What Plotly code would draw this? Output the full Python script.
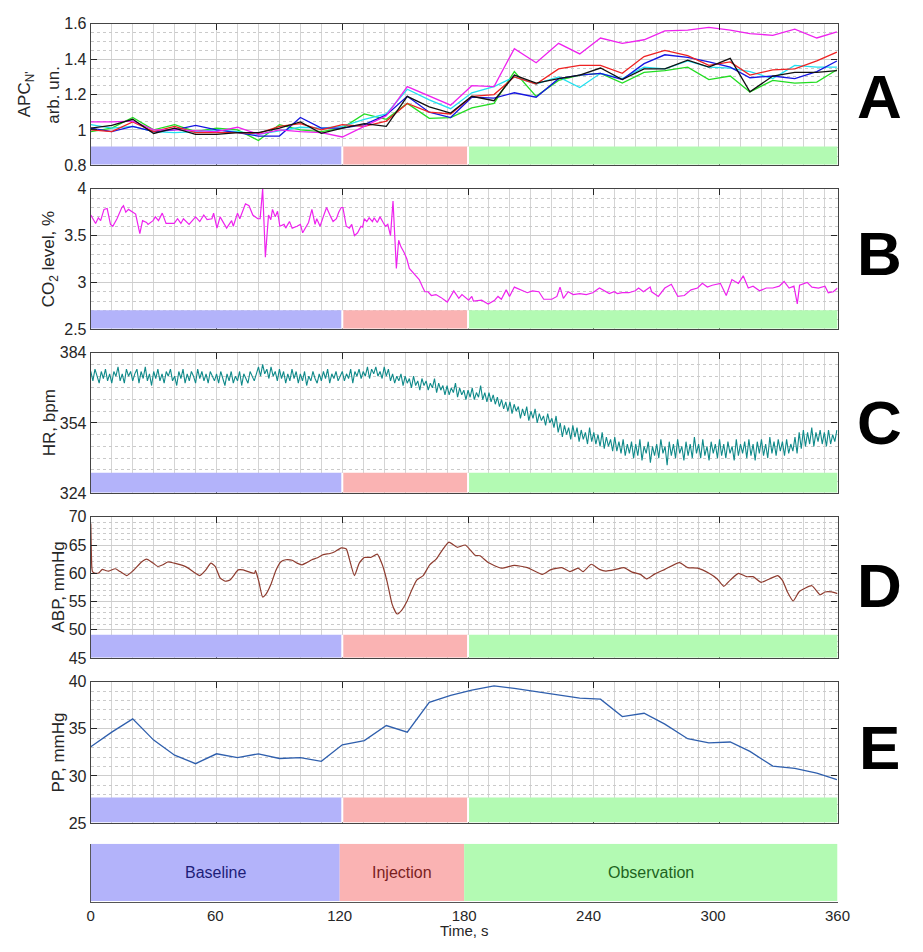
import plotly.graph_objects as go

# page is 923x952; the browser body keeps its default 8px margin, so the
# figure itself is sized to fit exactly inside it.
OFF = 8
W, H = 923 - 2 * OFF, 952 - 2 * OFF

# ---------------- data ----------------
phase_names = ["Baseline", "Injection", "Observation"]
phase_start = [0, 120, 180]
phase_end = [120, 180, 360]

# Panel A / E sample times (s)
time_pts = [0, 10, 20, 30, 40, 50, 60, 70, 80, 90, 100, 110, 120,
            130.5, 141, 151, 161.5, 171.7, 181.8, 192.4, 202.1, 212.5, 223.2,
            233.3, 243.2, 253.6, 264, 273.9, 284.8, 294.9, 305.1, 314.5, 325.4,
            335.9, 346.4, 356]

apc_magenta = [1.045, 1.045, 1.05, 1.0, 1.0, 0.995, 0.99, 1.015, 0.975, 1.0, 0.99, 0.985, 0.96,
               1.02, 1.08, 1.245, 1.19, 1.14,
               1.25, 1.245, 1.46, 1.38, 1.49, 1.43, 1.52, 1.49, 1.51, 1.56, 1.565, 1.58,
               1.565, 1.545, 1.535, 1.57, 1.52, 1.555]
apc_red = [1.0, 0.99, 1.045, 0.99, 1.02, 0.985, 0.985, 0.985, 0.98, 1.02, 1.035, 1.0, 1.03,
           1.02, 1.05, 1.15, 1.1, 1.09,
           1.19, 1.2, 1.3, 1.26, 1.345, 1.365, 1.365, 1.32, 1.415, 1.45, 1.42, 1.365,
           1.385, 1.31, 1.34, 1.345, 1.39, 1.44]
apc_blue = [1.01, 0.99, 1.02, 0.99, 1.0, 1.025, 1.0, 0.985, 0.965, 0.965, 1.07, 1.01, 1.01,
            1.03, 1.085, 1.19, 1.1, 1.07,
            1.185, 1.18, 1.21, 1.185, 1.29, 1.31, 1.32, 1.285, 1.375, 1.425, 1.41, 1.385,
            1.355, 1.295, 1.305, 1.29, 1.33, 1.39]
apc_cyan = [1.03, 1.01, 1.02, 0.99, 0.985, 0.99, 1.0, 0.99, 0.975, 0.995, 1.015, 1.01, 1.02,
            1.06, 1.09, 1.23, 1.17, 1.12,
            1.21, 1.245, 1.3, 1.26, 1.3, 1.24, 1.32, 1.29, 1.355, 1.345, 1.39, 1.355,
            1.35, 1.33, 1.29, 1.365, 1.355, 1.355]
apc_black = [1.01, 1.025, 1.06, 0.98, 1.01, 0.975, 0.975, 0.985, 0.985, 1.01, 1.045, 0.98, 1.01,
             1.035, 1.02, 1.19, 1.13, 1.095,
             1.19, 1.165, 1.31, 1.265, 1.29, 1.31, 1.35, 1.285, 1.345, 1.345, 1.395, 1.355,
             1.405, 1.215, 1.305, 1.325, 1.325, 1.335]
apc_green = [0.99, 1.01, 1.07, 1.0, 1.03, 0.99, 1.01, 1.0, 0.94, 1.03, 1.0, 0.99, 1.01,
             1.09, 1.06, 1.15, 1.065, 1.07,
             1.125, 1.15, 1.33, 1.19, 1.28, 1.31, 1.32, 1.265, 1.325, 1.335, 1.355, 1.285,
             1.305, 1.215, 1.28, 1.265, 1.27, 1.34]

co2_t = [0, 2.3, 3.6, 4.7, 6.3, 7.8, 9.4, 10.5, 12.5, 14.8, 15.6, 16.7, 18.0, 20.3, 21.4, 23.4,
         24.7, 26.6, 27.3, 29.7, 30.8, 32.3, 34.1, 35.9, 39.8, 41.4, 43.0, 44.2, 46.9, 50.0,
         52.0, 53.9, 55.5, 57.8, 58.6, 60.2, 61.7, 64.8, 67.2, 68.0, 70.0, 71.1, 73.8, 75.5,
         77.3, 79.7, 80.8, 82.0, 83.3, 84.8, 85.9, 86.7, 88.0, 89.1, 90.2, 92.2, 93.0, 94.8,
         96.1, 98.4, 100.0, 101.1, 103.1, 103.9, 105.5, 107.0, 107.8, 109.4, 110.9, 112.5,
         114.5, 115.6, 117.2, 118.3, 119.5, 120.3, 121.9, 123.4, 124.5, 125.8, 127.3, 128.9,
         129.7, 130.5, 131.7, 132.8, 134.4, 135.2, 136.7, 138.0, 139.5, 140.6, 141.7, 143.0,
         144.2, 145.8, 146.9, 148.0, 149.5, 150.8, 152.0, 153.9, 155.8, 156.7, 158.3, 159.4,
         160.9, 162.5,
         164.7, 167.0, 170.1, 173.2, 175.6, 177.1, 180.3, 181.8, 182.6, 186.5, 189.6, 192.7,
         194.3, 195.9, 198.2, 199.8, 202.1, 205.2, 208.3, 210.7, 213.8, 216.1, 220.0, 222.4,
         223.9, 225.5, 227.8, 230.2, 233.3, 236.4, 239.5, 242.7, 245.0, 247.4, 249.7, 251.3,
         253.6, 256.7, 259.8, 261.4, 263.7, 266.9, 267.6, 270.8, 273.9, 277.0, 280.1, 283.2,
         286.4, 289.5, 291.8, 294.2, 296.5, 300.4, 303.2, 305.9, 307.4, 309.0, 311.3, 313.7,
         316.0, 319.1, 322.3, 325.4, 328.5, 330.8, 333.2, 335.5, 337.1, 338.2, 341.8, 344.1,
         347.2, 350.3, 351.9, 354.3, 356.3]
co2_v = [3.72, 3.63, 3.69, 3.66, 3.78, 3.79, 3.62, 3.6, 3.68, 3.8, 3.82, 3.75, 3.78, 3.74, 3.73, 3.52,
         3.66, 3.64, 3.62, 3.66, 3.7, 3.66, 3.74, 3.63, 3.63, 3.68, 3.63, 3.68, 3.62, 3.7,
         3.65, 3.72, 3.67, 3.68, 3.74, 3.58, 3.7, 3.58, 3.66, 3.6, 3.74, 3.68, 3.84, 3.82,
         3.72, 3.68, 3.68, 4.0, 3.27, 3.72, 3.67, 3.78, 3.7, 3.76, 3.6, 3.62, 3.58, 3.65,
         3.58, 3.6, 3.62, 3.53, 3.6, 3.64, 3.78, 3.62, 3.68, 3.6, 3.7, 3.8,
         3.7, 3.65, 3.68, 3.75, 3.8, 3.8, 3.6, 3.58, 3.62, 3.5, 3.53, 3.6,
         3.59, 3.68, 3.65, 3.69, 3.65, 3.69, 3.64, 3.7, 3.64, 3.6, 3.62, 3.5,
         3.87, 3.15, 3.45, 3.38, 3.32, 3.25, 3.15, 3.1, 3.05, 3.03, 2.95, 2.9,
         2.9, 2.86,
         2.87, 2.84, 2.79, 2.91, 2.83, 2.87, 2.81, 2.85, 2.8, 2.81, 2.77, 2.81,
         2.85, 2.82, 2.92, 2.85, 2.95, 2.92, 2.89, 2.91, 2.9, 2.82, 2.82, 2.85,
         2.95, 2.83, 2.9, 2.87, 2.88, 2.87, 2.89, 2.94, 2.91, 2.88, 2.9, 2.88,
         2.89, 2.89, 2.91, 2.94, 2.9, 2.95, 2.9, 2.85, 2.94, 2.98, 2.85, 2.86,
         2.92, 2.94, 2.99, 2.95, 2.97, 2.99, 2.86, 3.03, 3.01, 2.99, 3.07, 2.94,
         2.96, 2.91, 2.94, 2.94, 2.96, 3.01, 2.94, 2.96, 2.77, 2.97, 3.0, 2.95,
         2.94, 2.96, 2.89, 2.9, 2.94]

hr_v = [376, 372, 377, 374, 371, 376, 373, 377, 372, 375,
        371, 376, 374, 378, 372, 375, 371, 377, 374, 376,
        372, 375, 377, 371, 376, 373, 378, 372, 375, 370,
        376, 373, 377, 372, 375, 371, 376, 374, 377, 372,
        374, 370, 376, 373, 377, 371, 375, 372, 376, 374,
        371, 377, 373, 376, 372, 375, 371, 376, 374, 372,
        375, 371, 376, 373, 370, 375, 372, 376, 371, 374,
        372, 376, 370, 375, 373, 371, 376, 374, 372, 375,
        378, 374, 379, 375, 377, 373, 378, 374, 376, 372,
        377, 373, 376, 371, 375, 372, 377, 373, 376, 371,
        375, 372, 376, 370, 374, 372, 376, 373, 371, 375,
        372, 376, 373, 377, 371, 375, 373, 376, 372, 374,
        376, 372, 375, 373, 377, 371, 376, 374, 377, 373,
        376, 374, 378, 373, 377, 375, 378, 374, 376, 373,
        378, 374, 377, 372, 375, 371, 374, 372, 375, 370,
        374, 371, 373, 369, 374, 370, 372, 368, 373, 370,
        372, 368, 371, 369, 373, 367, 371, 368, 370, 366,
        370, 366, 369, 367, 371, 365, 369, 366, 368, 364,
        368, 365, 369, 364, 367, 365, 370, 364, 367, 363,
        367, 363, 366, 362, 365, 361, 364, 360, 363, 359,
        363, 358, 362, 359, 361, 356, 360, 357, 361, 355,
        359, 356, 360, 354, 358, 355, 357, 353, 358, 354,
        356, 352, 357, 350, 354, 348, 353, 349, 352, 347,
        353, 348, 352, 346, 351, 347, 350, 345, 352, 346,
        350, 345, 349, 344, 350, 343, 348, 344, 347, 342,
        348, 342, 346, 341, 347, 340, 345, 341, 346, 339,
        345, 340, 347, 338, 344, 341, 346, 337, 344, 340,
        345, 339, 347, 341, 344, 336, 346, 340, 345, 339,
        347, 341, 344, 338, 346, 340, 345, 339, 348, 341,
        345, 339, 347, 340, 344, 338, 346, 341, 345, 339,
        347, 340, 345, 339, 346, 341, 344, 338, 347, 340,
        345, 341, 346, 339, 347, 340, 345, 338, 346, 341,
        347, 340, 345, 339, 348, 341, 346, 340, 347, 342,
        346, 340, 347, 341, 345, 342, 348, 341, 350, 343,
        351, 344, 350, 345, 352, 344, 350, 346, 351, 345,
        350, 344, 351, 345, 349, 346, 351]
hr_t = list(range(len(hr_v)))

abp_t = [0, 0.5, 0.8, 2.3, 3.9, 5.5, 7.0, 8.6, 11.7, 14.0, 17.2, 20.3, 24.2, 26.6, 29.7, 32.0,
         34.4, 36.7, 39.8, 43.8, 46.1, 49.2, 52.0, 54.7, 57.3, 59.4, 61.7, 64.1, 66.4, 68.0,
         70.3, 72.7, 75.8, 78.1, 78.6, 80.2, 82.0, 83.6, 85.9, 88.3, 90.6, 93.0, 96.1, 98.4,
         100.8, 103.1, 105.5, 107.8, 110.9, 114.1, 116.4, 119.5, 121.9, 123.4, 125.8, 128.1,
         130.5, 133.6, 136.7, 139.1, 141.4, 143.8, 146.1, 148.4, 150.8, 153.1, 155.5, 158.6,
         161.7, 164.8, 167.9,
         170.9, 174.8, 178.7, 183.4, 185.7, 189.6, 195.9, 202.1, 208.3, 215.4, 219.3, 224.7,
         228.6, 232.5, 234.9, 238.8, 242.7, 245.8, 250.5, 254.4, 258.3, 262.2, 265.3, 269.2,
         273.9, 280.9, 284.8, 289.5, 295.0, 298.9, 302.0, 305.1, 309.0, 312.9, 316.0, 319.9,
         323.8, 327.7, 330.1, 332.4, 335.1, 337.9, 341.0, 344.1, 348.0, 350.3, 353.5, 356.3]
abp_v = [68.8, 61.0, 60.3, 60.0, 60.1, 60.7, 60.5, 60.4, 60.8, 60.3, 59.6, 60.5, 62.0, 62.5, 61.8, 61.2,
         61.5, 62.0, 61.8, 61.4, 61.0, 60.2, 59.6, 60.5, 61.8, 61.2, 59.2, 58.6, 58.8, 59.5,
         60.6, 60.6, 60.2, 60.0, 60.5, 58.5, 55.8, 56.3, 58.0, 60.5, 62.0, 62.4, 62.3, 61.8,
         61.5, 61.9, 62.4, 62.7, 63.3, 63.5, 63.8, 64.5, 64.3, 62.5, 59.6, 61.8,
         62.8, 62.8, 63.4, 61.5, 58.5, 54.5, 52.8, 53.5, 55.0, 57.0, 58.8, 59.6,
         61.5, 62.5, 64.2,
         65.5, 64.6, 65.0, 63.2, 63.1, 61.9, 60.9, 61.4, 61.0, 59.8, 60.6, 61.0,
         60.3, 60.9, 60.3, 61.6, 60.7, 60.4, 60.7, 61.0, 60.2, 59.8, 59.0, 59.9,
         60.7, 61.9, 61.0, 60.9, 60.0, 59.0, 57.7, 58.8, 60.0, 59.4, 59.4, 58.4,
         59.0, 59.6, 58.7, 56.7, 55.1, 56.7, 57.4, 57.8, 56.2, 56.7, 56.7, 56.4]

pp_v = [33.1, 34.65, 36.05, 33.8, 32.2, 31.3, 32.35, 31.95, 32.35, 31.85, 31.95, 31.55, 33.3,
        33.75, 35.35, 34.65, 37.8, 38.55,
        39.1, 39.55, 39.3, 38.95, 38.6, 38.25, 38.15, 36.3, 36.65, 35.5, 33.95, 33.5,
        33.6, 32.6, 31.05, 30.8, 30.3, 29.6]

y_titles = ["APC<sub>N'</sub>", "CO<sub>2</sub> level, %", "HR, bpm", "ABP, mmHg", "PP, mmHg"]
panel_letters = ["A", "B", "C", "D", "E"]
x_ticks = [0, 60, 120, 180, 240, 300, 360]

# ---------------- styling / layout ----------------
FONT = "Liberation Sans, Arial, sans-serif"
NARROW = "Liberation Sans Narrow, Arial Narrow, Liberation Sans, sans-serif"
phase_fill = ["#B3B3FA", "#FAB3B3", "#B3FAB3"]
phase_text = ["#1E1E78", "#7A1E1E", "#1E641E"]
XMAX_UP = 356.3


def fx(x):  # page pixel -> paper fraction
    return (x - OFF) / W


def fy(y):
    return 1 - (y - OFF) / H


panels = [
    dict(top=16, bottom=160, yr=[0.8, 1.6], dtick=0.2, minor=0.05, bar=0.132, tx=22, ly=90),
    dict(top=184, bottom=327, yr=[2.5, 4.0], dtick=0.5, minor=0.1, bar=0.135, tx=47, ly=250),
    dict(top=351, bottom=494, yr=[324, 384], dtick=30, minor=5, bar=0.145, tx=47, ly=422),
    dict(top=518, bottom=662, yr=[45, 70], dtick=5, minor=1, bar=0.165, tx=55, ly=588),
    dict(top=686, bottom=830, yr=[25, 40], dtick=5, minor=1, bar=0.18, tx=55, ly=753),
]

fig = go.Figure()

for vals, col in [(apc_green, "#22DD22"), (apc_cyan, "#22E0F0"), (apc_blue, "#1515E0"),
                  (apc_red, "#EE2222"), (apc_magenta, "#EE22EE"), (apc_black, "#111111")]:
    fig.add_trace(go.Scatter(x=time_pts, y=vals, mode="lines", xaxis="x", yaxis="y",
                             line=dict(color=col, width=1.3), hoverinfo="skip"))
fig.add_trace(go.Scatter(x=co2_t, y=co2_v, mode="lines", xaxis="x2", yaxis="y2",
                         line=dict(color="#EE22EE", width=1.2)))
fig.add_trace(go.Scatter(x=hr_t, y=hr_v, mode="lines", xaxis="x3", yaxis="y3",
                         line=dict(color="#108A8A", width=1.1)))
fig.add_trace(go.Scatter(x=abp_t, y=abp_v, mode="lines", xaxis="x4", yaxis="y4",
                         line=dict(color="#8E3B2E", width=1.2, shape="spline", smoothing=0.5)))
fig.add_trace(go.Scatter(x=time_pts, y=pp_v, mode="lines", xaxis="x5", yaxis="y5",
                         line=dict(color="#2F5FAD", width=1.3)))

layout = dict(width=W, height=H, margin=dict(l=0, r=0, t=0, b=0),
              paper_bgcolor="white", plot_bgcolor="white", showlegend=False,
              font=dict(family=FONT, color="#262626"))
shapes = []
annotations = []

xdom = [fx(88.3), fx(849.3)]
for i, p in enumerate(panels, start=1):
    sfx = "" if i == 1 else str(i)
    ydom = [fy(p["bottom"]), fy(p["top"])]
    layout["xaxis" + sfx] = dict(
        domain=xdom, range=[0, XMAX_UP], anchor="y" + sfx,
        tickmode="linear", tick0=0, dtick=60, showticklabels=False,
        ticks="inside", ticklen=6, tickcolor="#262626", tickwidth=1.2,
        showline=True, linecolor="#444444", linewidth=1.2, mirror="ticks",
        showgrid=True, gridcolor="#D4D4D4", gridwidth=1, zeroline=False,
        minor=dict(tick0=0, dtick=10, showgrid=True, gridcolor="#D4D4D4", gridwidth=1, ticks=""),
    )
    layout["yaxis" + sfx] = dict(
        domain=ydom, range=p["yr"], anchor="x" + sfx,
        tickmode="linear", tick0=p["yr"][0], dtick=p["dtick"],
        ticks="inside", ticklen=6, tickcolor="#262626", tickwidth=1.2,
        tickfont=dict(size=16, family=FONT, color="#262626"),
        showline=True, linecolor="#444444", linewidth=1.2, mirror="ticks",
        showgrid=True, gridcolor="#CDCDCD", gridwidth=1, zeroline=False,
        minor=dict(tick0=p["yr"][0], dtick=p["minor"], showgrid=True, gridcolor="#CACACA",
                   griddash="dot", gridwidth=1, ticks=""),
    )
    for s, e, c in zip(phase_start, phase_end, phase_fill):
        shapes.append(dict(type="rect", xref="x" + sfx, yref="y" + sfx + " domain",
                           x0=s, x1=min(e, XMAX_UP), y0=0.005, y1=p["bar"],
                           fillcolor=c, line=dict(width=0), layer="above"))
    for s in phase_start[1:]:
        shapes.append(dict(type="line", xref="x" + sfx, yref="y" + sfx + " domain",
                           x0=s, x1=s, y0=0.005, y1=p["bar"],
                           line=dict(color="white", width=2), layer="above"))
    annotations.append(dict(text="<b>" + panel_letters[i - 1] + "</b>", xref="paper", yref="paper",
                            x=fx(892), y=fy(p["ly"]), xanchor="center", yanchor="middle",
                            showarrow=False, font=dict(size=62, family=FONT, color="black")))
    ymid = fy((p["top"] + p["bottom"]) / 2)
    annotations.append(dict(text=y_titles[i - 1], xref="paper", yref="paper",
                            x=fx(p["tx"]), y=ymid, textangle=-90, xanchor="center",
                            yanchor="middle", showarrow=False,
                            font=dict(size=17, family=FONT, color="#262626")))
    if i == 1:
        annotations.append(dict(text="arb. un.", xref="paper", yref="paper",
                                x=fx(50), y=ymid, textangle=-90, xanchor="center", yanchor="middle",
                                showarrow=False, font=dict(size=17, family=FONT, color="#262626")))

# bottom phase bar axis
layout["xaxis6"] = dict(domain=xdom, range=[0, 360], anchor="y6",
                        tickmode="array", tickvals=x_ticks,
                        ticks="", ticklen=0, showline=True, linecolor="#555555", linewidth=1.2,
                        showgrid=False, zeroline=False,
                        tickfont=dict(size=15, family=NARROW, color="#262626"))
layout["yaxis6"] = dict(domain=[fy(910), fy(851)], range=[0, 1], anchor="x6",
                        showticklabels=False, ticks="", showline=True, linecolor="#555555",
                        linewidth=1.2, showgrid=False, zeroline=False)
for name, s, e, c, tc in zip(phase_names, phase_start, phase_end, phase_fill, phase_text):
    shapes.append(dict(type="rect", xref="x6", yref="y6", x0=s, x1=e, y0=0.01, y1=1,
                       fillcolor=c, line=dict(width=0), layer="above"))
    annotations.append(dict(text=name, xref="x6", yref="y6", x=(s + e) / 2, y=0.5,
                            showarrow=False, font=dict(size=16, family=NARROW, color=tc)))
annotations.append(dict(text="Time, s", xref="paper", yref="paper", x=fx(469), y=fy(939),
                        xanchor="center", yanchor="middle", showarrow=False,
                        font=dict(size=15, family=NARROW, color="#262626")))

layout["shapes"] = shapes
layout["annotations"] = annotations
fig.update_layout(**layout)

fig.write_html("out.html", config={"displayModeBar": False, "responsive": False})
